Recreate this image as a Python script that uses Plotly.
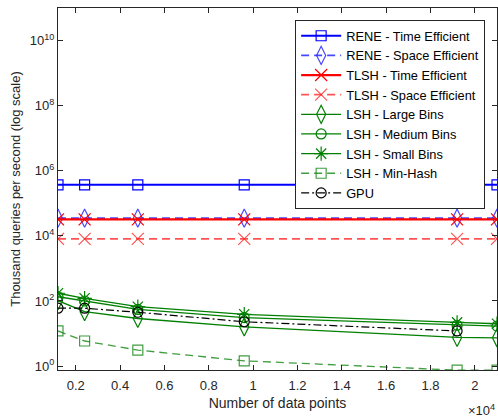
import plotly.graph_objects as go

x_points = [1200, 2400, 4800, 9600, 19200, 21000]
x_gpu = [1200, 2400, 4800, 9600, 19200]

rene_time = [3.7e5, 3.7e5, 3.7e5, 3.7e5, 3.7e5, 3.7e5]
rene_space = [3.5e4, 3.5e4, 3.5e4, 3.5e4, 3.5e4, 3.5e4]
tlsh_time = [3.2e4, 3.2e4, 3.2e4, 3.2e4, 3.2e4, 3.2e4]
tlsh_space = [8.1e3, 8.1e3, 8.1e3, 8.1e3, 8.1e3, 8.1e3]
lsh_large = [102, 47, 29, 16, 7.6, 7.4]
lsh_medium = [135, 100, 55, 31, 18, 17]
lsh_small = [173, 121, 67, 39, 22, 20]
lsh_minhash = [12, 5.9, 3.1, 1.45, 0.75, 0.75]
gpu = [60, 60, 45, 23, 12]

y_tickvals = [1, 1e2, 1e4, 1e6, 1e8, 1e10]
y_ticktext = ["10<sup>0</sup>", "10<sup>2</sup>", "10<sup>4</sup>", "10<sup>6</sup>", "10<sup>8</sup>", "10<sup>10</sup>"]
x_tickvals = [2000, 4000, 6000, 8000, 10000, 12000, 14000, 16000, 18000, 20000]
x_ticktext = ["0.2", "0.4", "0.6", "0.8", "1", "1.2", "1.4", "1.6", "1.8", "2"]

series = [
    ("RENE - Time Efficient", x_points, rene_time, "rgb(0,0,255)", "solid", "square-open", 10, 2),
    ("RENE - Space Efficient", x_points, rene_space, "rgba(40,40,255,0.85)", "8px,5px", "diamond-tall-open", 13, 1.8),
    ("TLSH - Time Efficient", x_points, tlsh_time, "rgb(255,0,0)", "solid", "x-thin-open", 12, 2.2),
    ("TLSH - Space Efficient", x_points, tlsh_space, "rgba(255,40,40,0.8)", "8px,5px", "x-thin-open", 12, 1.8),
    ("LSH - Large Bins", x_points, lsh_large, "rgb(0,128,0)", "solid", "diamond-tall-open", 13, 1.3),
    ("LSH - Medium Bins", x_points, lsh_medium, "rgb(0,128,0)", "solid", "circle-open", 10, 1.3),
    ("LSH - Small Bins", x_points, lsh_small, "rgb(0,128,0)", "solid", "asterisk-open", 12, 1.3),
    ("LSH - Min-Hash", x_points, lsh_minhash, "rgba(30,140,30,0.85)", "8px,5px", "square-open", 10, 1.3),
    ("GPU", x_gpu, gpu, "rgb(0,0,0)", "8px,3px,2px,3px", "circle-open", 10, 1.2),
]

fig = go.Figure()
for name, xs, ys, color, dash, symbol, msize, lw in series:
    fig.add_trace(go.Scatter(
        x=xs, y=ys, name=name, mode="lines+markers",
        line=dict(color=color, width=lw, dash=dash),
        marker=dict(symbol=symbol, size=msize, color=color,
                    line=dict(color=color, width=1.2)),
        cliponaxis=True,
    ))

font_family = "Liberation Sans, Arial, sans-serif"
fig.update_layout(
    width=498, height=417,
    margin=dict(l=58, r=1, t=8, b=47, autoexpand=False),
    paper_bgcolor="white", plot_bgcolor="white",
    font=dict(family=font_family, size=13, color="rgb(38,38,38)"),
    showlegend=True,
    legend=dict(
        x=0.973, y=0.967, xanchor="right", yanchor="top",
        bgcolor="white", bordercolor="rgb(38,38,38)", borderwidth=1,
        font=dict(size=12.8, color="black"), itemwidth=40,
        tracegroupgap=0,
    ),
    xaxis=dict(
        range=[1200, 21000], tickvals=x_tickvals, ticktext=x_ticktext,
        ticks="inside", ticklen=5, tickcolor="rgb(38,38,38)",
        showline=True, linecolor="rgb(38,38,38)", linewidth=1, mirror="ticks",
        showgrid=False, zeroline=False, ticklabelstandoff=3,
        title=dict(text="Number of data points", standoff=6, font=dict(size=14)),
        tickfont=dict(size=13),
    ),
    yaxis=dict(
        type="log", range=[-0.12, 11], tickvals=y_tickvals, ticktext=y_ticktext,
        ticks="inside", ticklen=5, tickcolor="rgb(38,38,38)",
        showline=True, linecolor="rgb(38,38,38)", linewidth=1, mirror="ticks",
        showgrid=False, zeroline=False,
        title=dict(text="Thousand queries per second (log scale)", standoff=6, font=dict(size=13)),
        tickfont=dict(size=13),
    ),
)

fig.add_annotation(
    x=1.0, y=0, xref="paper", yref="paper", xanchor="right", yanchor="top",
    yshift=-30, text="\u00d710<sup>4</sup>", showarrow=False,
    font=dict(size=13, color="rgb(38,38,38)"),
)

fig.write_html("out.html", config={"displayModeBar": False},
               post_script="document.body.style.margin='0px';")
